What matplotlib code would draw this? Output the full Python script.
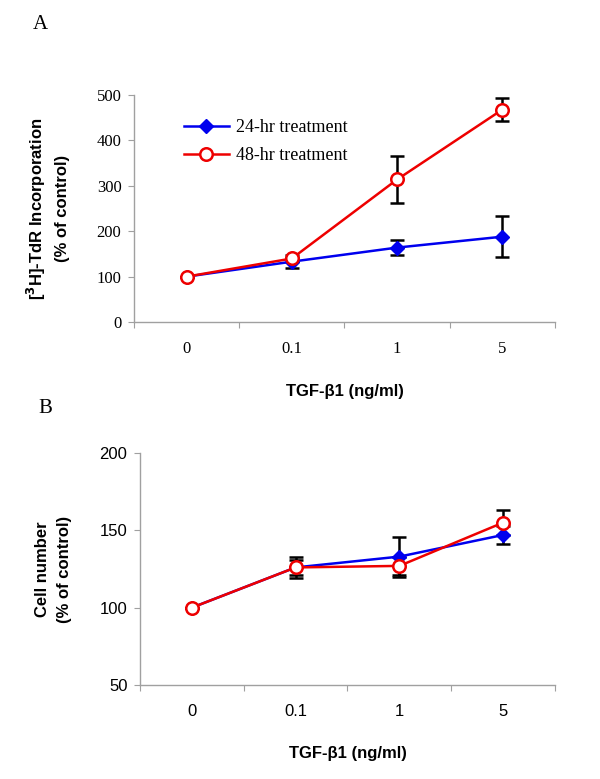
import numpy as np
import matplotlib.pyplot as plt

# -----------------------------
# Data
# -----------------------------
doses = ["0", "0.1", "1", "5"]

# Panel A: [3H]-TdR incorporation (% of control)
tdr_24 = [100, 133, 164, 188]
tdr_24_err = [0, 14, 17, 45]
tdr_48 = [100, 140, 314, 468]
tdr_48_err = [0, 0, 51, 26]

# Panel B: cell number (% of control)
cell_24 = [100, 126, 133, 147]
cell_24_err = [0, 7, 13, 6]
cell_48 = [100, 126, 127, 155]
cell_48_err = [0, 5, 6, 8]

BLUE = "#0000ee"
RED = "#ee0000"
GRAY = "#a0a0a0"

fig = plt.figure(figsize=(6, 7.79), dpi=100)

ax_a = fig.add_axes([0.2233, 0.5866, 0.7017, 0.2914])
ax_b = fig.add_axes([0.2333, 0.1207, 0.6917, 0.2978])

x = np.arange(len(doses))


def style_axis(ax, ylim, yticks, tick_font, xlabelpad):
    ax.set_xlim(-0.5, len(doses) - 0.5)
    ax.set_ylim(*ylim)
    ax.set_yticks(yticks)
    ax.set_yticklabels([str(t) for t in yticks], family=tick_font, fontsize=12)
    # category ticks at boundaries, labels at centres
    ax.set_xticks(np.arange(-0.5, len(doses), 1.0))
    ax.set_xticklabels([])
    ax.set_xticks(x, minor=True)
    ax.set_xticklabels(doses, minor=True, family=tick_font, fontsize=12)
    ax.tick_params(axis="x", which="minor", length=0, pad=14)
    ax.tick_params(axis="x", which="major", length=4, color=GRAY, direction="out")
    ax.tick_params(axis="y", length=4, color=GRAY, direction="out", pad=5)
    for side in ["top", "right"]:
        ax.spines[side].set_visible(False)
    for side in ["left", "bottom"]:
        ax.spines[side].set_color(GRAY)
        ax.spines[side].set_linewidth(1.0)
    ax.set_xlabel("TGF-β1 (ng/ml)", family="Liberation Sans",
                  fontweight="bold", fontsize=12, labelpad=xlabelpad)


def draw_series(ax, y24, e24, y48, e48):
    ax.errorbar(x, y24, yerr=e24, fmt="none", ecolor="black",
                elinewidth=1.8, capsize=5, capthick=1.8, zorder=2)
    ax.errorbar(x, y48, yerr=e48, fmt="none", ecolor="black",
                elinewidth=1.8, capsize=5, capthick=1.8, zorder=2)
    ax.plot(x, y24, color=BLUE, linewidth=1.8, marker="D",
            markersize=7, markerfacecolor=BLUE, markeredgecolor=BLUE,
            label="24-hr treatment", zorder=3)
    ax.plot(x, y48, color=RED, linewidth=1.8, marker="o",
            markersize=9, markerfacecolor="white", markeredgecolor=RED,
            markeredgewidth=1.8, label="48-hr treatment", zorder=4)


# -----------------------------
# Panel A
# -----------------------------
draw_series(ax_a, tdr_24, tdr_24_err, tdr_48, tdr_48_err)
style_axis(ax_a, (0, 500), [0, 100, 200, 300, 400, 500], "Liberation Serif", 19)
ax_a.set_ylabel("[$\\mathbf{^{3}}$H]-TdR Incorporation\n(% of control)",
                family="Liberation Sans", fontweight="bold", fontsize=12,
                labelpad=19, linespacing=1.6)
ax_a.legend(loc="upper left", bbox_to_anchor=(0.08, 0.965), frameon=False,
            prop={"family": "Liberation Serif", "size": 13},
            handlelength=2.5, labelspacing=0.6, handletextpad=0.4)

# -----------------------------
# Panel B
# -----------------------------
draw_series(ax_b, cell_24, cell_24_err, cell_48, cell_48_err)
style_axis(ax_b, (50, 200), [50, 100, 150, 200], "Liberation Sans", 19)
ax_b.set_ylabel("Cell number\n(% of control)", family="Liberation Sans",
                fontweight="bold", fontsize=12, labelpad=20, linespacing=1.6)

# panel letters
fig.text(0.067, 0.968, "A", family="Liberation Serif", fontsize=15,
         va="center", ha="center")
fig.text(0.075, 0.476, "B", family="Liberation Serif", fontsize=15,
         va="center", ha="center")

plt.savefig("out.png", dpi=100)
plt.close(fig)
